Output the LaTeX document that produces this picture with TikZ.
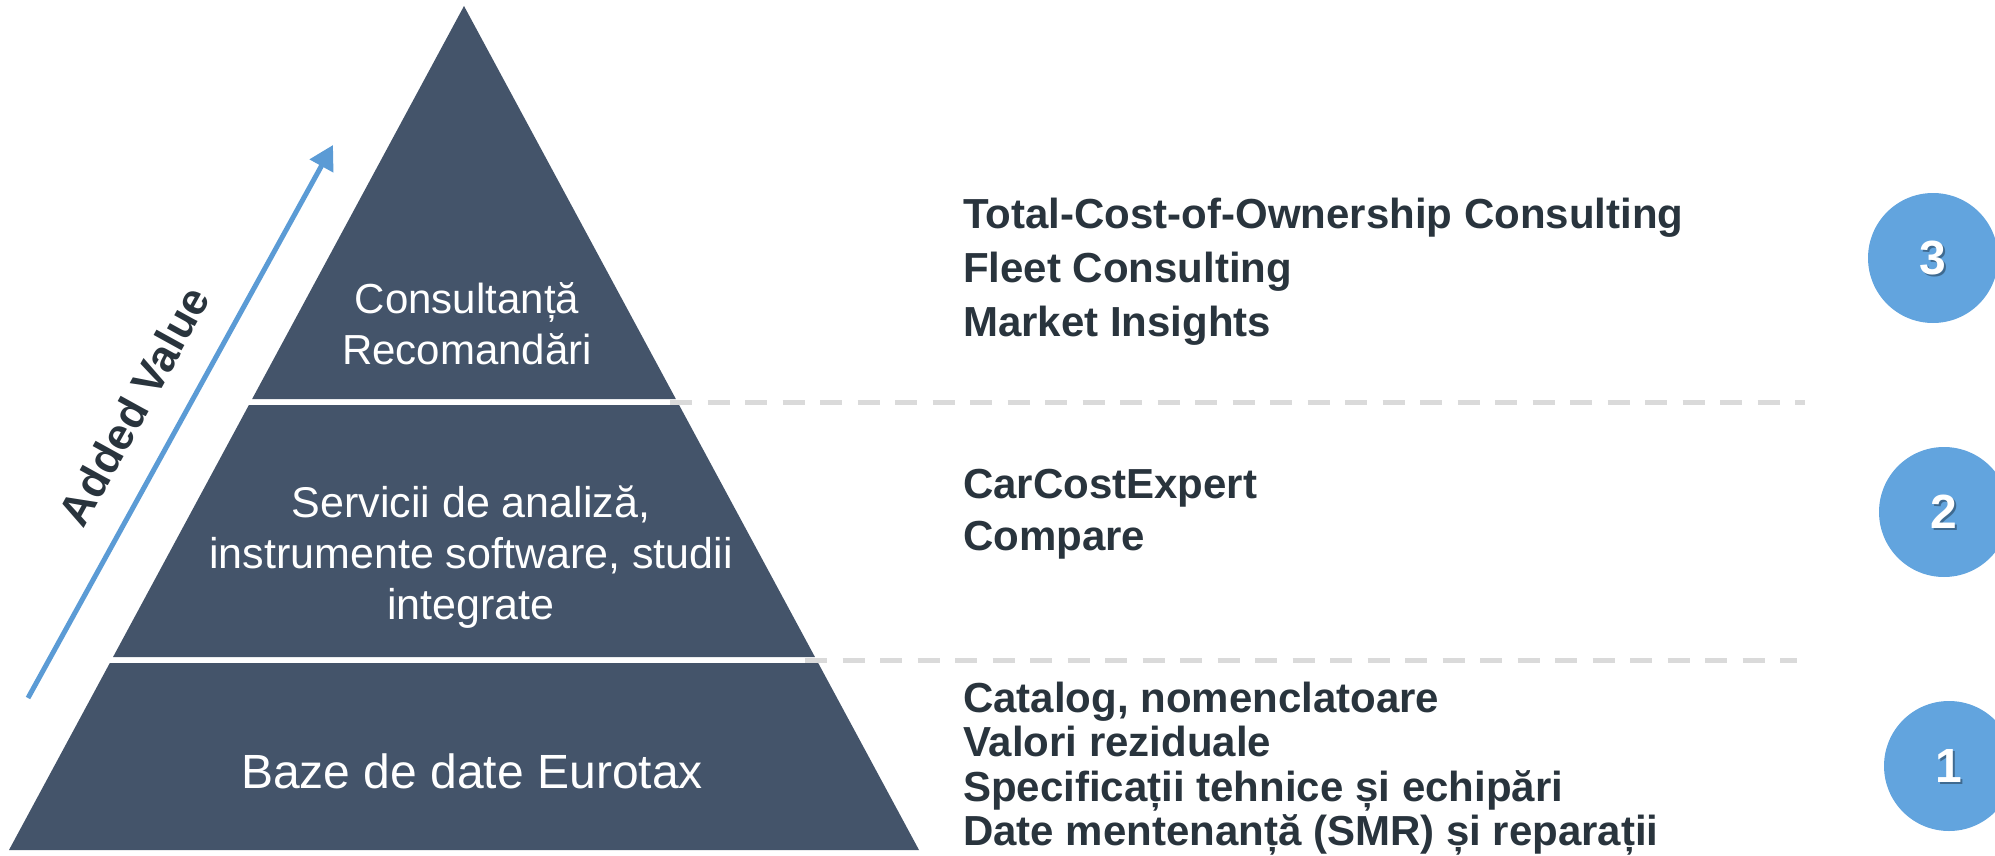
\documentclass[tikz,border=0pt]{standalone}
\usepackage{fontspec}
\setmainfont{Liberation Sans}
\usetikzlibrary{calc,arrows.meta}
\definecolor{pyr}{HTML}{44546A}
\definecolor{bluec}{HTML}{62A4DE}
\definecolor{arrowc}{HTML}{5B9BD5}
\definecolor{txt}{HTML}{29343D}
\definecolor{dashc}{HTML}{DADADA}
\tikzset{
  tier/.style={fill=pyr},
  dashline/.style={draw=dashc, line width=5pt, dash pattern=on 22pt off 15.5pt},
  tiertext/.style={text=white, anchor=base, inner sep=0pt},
  listtext/.style={text=txt, anchor=base west, inner sep=0pt, font=\bfseries\fontsize{42}{50}\selectfont},
  badge/.style={circle, fill=bluec, minimum size=130pt, inner sep=0pt},
  digit/.style={text=white, font=\bfseries\fontsize{48}{50}\selectfont, inner sep=0pt},
  digitshadow/.style={text=black, opacity=0.35, font=\bfseries\fontsize{48}{50}\selectfont, inner sep=0pt},
}
\begin{document}
\begin{tikzpicture}[x=1pt,y=-1pt]
\useasboundingbox (0,0) rectangle (1995,856);
% pyramid
\coordinate (apex) at (464,6);
\coordinate (bl) at (9,850);
\coordinate (br) at (919,850);
\fill[tier] (apex) -- ($(apex)!0.46564!(br)$) -- ($(apex)!0.46564!(bl)$) -- cycle;
\fill[tier] ($(apex)!0.47275!(bl)$) -- ($(apex)!0.47275!(br)$) -- ($(apex)!0.77133!(br)$) -- ($(apex)!0.77133!(bl)$) -- cycle;
\fill[tier] ($(apex)!0.77844!(bl)$) -- ($(apex)!0.77844!(br)$) -- (br) -- (bl) -- cycle;
% dashed separators
\coordinate (d1s) at (670,402);
\coordinate (d1e) at (1805,402);
\coordinate (d2s) at (805,660);
\coordinate (d2e) at (1797,660);
\draw[dashline] (d1s) -- (d1e);
\draw[dashline] (d2s) -- (d2e);
% tier texts
\node[tiertext, font=\fontsize{42}{50}\selectfont] (t3a) at (467,313) {Consultanță};
\node[tiertext, font=\fontsize{42}{50}\selectfont] (t3b) at (467,364) {Recomandări};
\node[tiertext, font=\fontsize{43}{50}\selectfont] (t2a) at (471,517) {Servicii de analiză,};
\node[tiertext, font=\fontsize{43}{50}\selectfont] (t2b) at (471,568) {instrumente software, studii};
\node[tiertext, font=\fontsize{43}{50}\selectfont] (t2c) at (471,619) {integrate};
\node[tiertext, font=\fontsize{48}{50}\selectfont] (t1a) at (472,788) {Baze de date Eurotax};
% added value arrow
\coordinate (a0) at (28,698);
\coordinate (a1) at (333,145);
\draw[arrowc, line width=5pt, -{Triangle[length=24pt,width=26pt]}] (a0) -- (a1);
\node[rotate=61.1, text=txt, font=\bfseries\fontsize{44}{50}\selectfont] (av) at (134,406) {Added Value};
% right lists
\node[listtext] (l3a) at (963,228) {Total-Cost-of-Ownership Consulting};
\node[listtext] (l3b) at (963,282) {Fleet Consulting};
\node[listtext] (l3c) at (963,336) {Market Insights};
\node[listtext] (l2a) at (963,498) {CarCostExpert};
\node[listtext] (l2b) at (963,550) {Compare};
\node[listtext] (l1a) at (963,712) {Catalog, nomenclatoare};
\node[listtext] (l1b) at (963,756.5) {Valori reziduale};
\node[listtext] (l1c) at (963,801) {Specificații tehnice și echipări};
\node[listtext] (l1d) at (963,845.5) {Date mentenanță (SMR) și reparații};
% badges
\node[badge] (c3) at (1933,258) {};
\node[badge] (c2) at (1944,512) {};
\node[badge] (c1) at (1949,766) {};
\node[digitshadow] (s3) at ($(c3)+(1.5,2)$) {3};
\node[digitshadow] (s2) at ($(c2)+(1.5,2)$) {2};
\node[digitshadow] (s1) at ($(c1)+(1.5,2)$) {1};
\node[digit] (n3) at (c3) {3};
\node[digit] (n2) at (c2) {2};
\node[digit] (n1) at (c1) {1};
\end{tikzpicture}
\end{document}
